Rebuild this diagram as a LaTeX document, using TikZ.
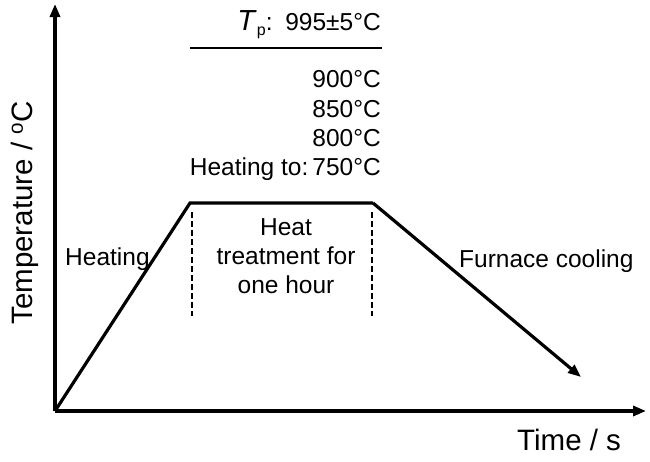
\documentclass[tikz,border=0pt]{standalone}
\usepackage{fontspec}
\setmainfont{Liberation Sans}
\usetikzlibrary{arrows.meta}
\begin{document}
\begin{tikzpicture}[x=1pt,y=-1pt,
  axisline/.style={line width=3.2pt,-{Triangle[length=13pt,width=10pt]}},
  curveline/.style={line width=3.2pt,line join=miter},
  guide/.style={line width=1.8pt,dash pattern=on 6pt off 3pt},
  lbl/.style={inner sep=0pt,font=\fontsize{24.5}{29}\selectfont,text=black},
  axlbl/.style={inner sep=0pt,font=\fontsize{29.5}{32}\selectfont,text=black}]
\useasboundingbox (0,0) rectangle (650,461);
\coordinate (O) at (55,411);
\coordinate (Ytop) at (55,4);
\coordinate (Xend) at (646,411);
\coordinate (A) at (190,203);
\coordinate (B) at (373,203);
\coordinate (C) at (581,377);
\coordinate (D1t) at (192,212);
\coordinate (D1b) at (192,316);
\coordinate (D2t) at (372,212);
\coordinate (D2b) at (372,316);
\coordinate (Ul) at (190,48);
\coordinate (Ur) at (382,48);
% axes
\draw[axisline] (O) -- (Ytop);
\draw[axisline] (O) -- (Xend);
% profile
\draw[curveline] (O) -- (A) -- (B);
\draw[line width=3.2pt,-{Triangle[length=13pt,width=10pt]}] (B) -- (C);
% dashed guides
\draw[guide] (D1t) -- (D1b);
\draw[guide] (D2t) -- (D2b);
% underline
\draw[line width=2.2pt] (Ul) -- (Ur);
% texts
\node[lbl,anchor=base east] (tp) at (381,30) {{\fontsize{29}{29}\selectfont\textit{T}}\raisebox{-0.45ex}{\fontsize{16}{16}\selectfont p}:\hspace{0.15em} 995±5°C};
\node[lbl,anchor=base east] (t900) at (381,87) {900°C};
\node[lbl,anchor=base east] (t850) at (381,117) {850°C};
\node[lbl,anchor=base east] (t800) at (381,146) {800°C};
\node[lbl,anchor=base east] (t750) at (381,175) {Heating to:\,750°C};
\node[lbl,anchor=base west] (heat) at (65,265) {Heating};
\node[lbl,anchor=base] (ht1) at (286,235) {Heat};
\node[lbl,anchor=base] (ht2) at (286,264) {treatment for};
\node[lbl,anchor=base] (ht3) at (286,293) {one hour};
\node[lbl,anchor=base west] (fc) at (459,267) {Furnace cooling};
\node[axlbl,anchor=base west] (xl) at (517,450) {Time / s};
\node[axlbl,rotate=90,anchor=base] (yl) at (32,213) {Temperature / $^{\mathrm{o}}$C};
\end{tikzpicture}
\end{document}
